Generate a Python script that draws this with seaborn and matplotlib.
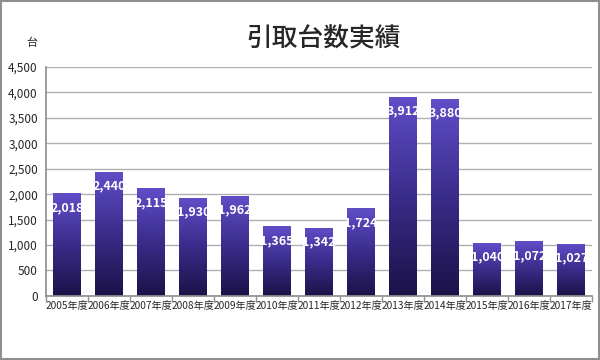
import numpy as np
import pandas as pd
import matplotlib
matplotlib.use("Agg")
import matplotlib.pyplot as plt
from matplotlib.colors import LinearSegmentedColormap
import seaborn as sns

# Data
years = ["2005年度", "2006年度", "2007年度", "2008年度", "2009年度", "2010年度", "2011年度",
         "2012年度", "2013年度", "2014年度", "2015年度", "2016年度", "2017年度"]
counts = [2018, 2440, 2115, 1930, 1962, 1365, 1342, 1724, 3912, 3880, 1040, 1072, 1027]
yticks = [0, 500, 1000, 1500, 2000, 2500, 3000, 3500, 4000, 4500]

sns.set_theme(style="white")
plt.rcParams["font.family"] = ["Noto Sans CJK JP", "DejaVu Sans"]

df = pd.DataFrame({"year": years, "count": counts})

fig = plt.figure(figsize=(6, 3.6), dpi=100)
ax = fig.add_axes([0.077, 0.178, 0.91, 0.636])

sns.barplot(data=df, x="year", y="count", ax=ax, width=0.66, color="#4a3aa0",
            edgecolor="none")

# vertical gradient on each bar
cmap = LinearSegmentedColormap.from_list("grad", ["#1c1248", "#3a2c8a", "#604ec8"])
grad = np.linspace(0, 1, 256).reshape(-1, 1)
for bar in ax.patches:
    x0, y0 = bar.get_x(), bar.get_y()
    w, h = bar.get_width(), bar.get_height()
    bar.set_facecolor("none")
    im = ax.imshow(grad, cmap=cmap, origin="lower", aspect="auto",
                   extent=[x0, x0 + w, y0, y0 + h], zorder=2)
    im.set_clip_path(bar)

# value labels
for i, v in enumerate(counts):
    ax.text(i, v - 280, f"{v:,}", ha="center", va="center", color="white",
            fontsize=9, fontweight="bold", zorder=3)

ax.set_xlim(-0.5, len(years) - 0.5)
ax.set_ylim(0, 4500)
ax.set_yticks(yticks)
ax.set_yticklabels([f"{t:,}" for t in yticks], fontsize=8.5)
ax.set_xticks(range(len(years)))
ax.set_xticklabels(years, fontsize=7.3)
ax.set_xlabel("")
ax.set_ylabel("")
ax.yaxis.grid(True, color="#b0b0b0", linewidth=1)
ax.set_axisbelow(True)
ax.tick_params(axis="y", length=0, pad=6)
ax.tick_params(axis="x", length=0, pad=4)
# tick marks between categories
ax.set_xticks(np.arange(-0.5, len(years)), minor=True)
ax.tick_params(axis="x", which="minor", length=4, color="#909090", bottom=True)
for side in ["top", "right"]:
    ax.spines[side].set_visible(False)
for side in ["left", "bottom"]:
    ax.spines[side].set_color("#909090")

fig.text(0.54, 0.893, "引取台数実績", ha="center", va="center", fontsize=18.5,
         fontweight="medium")
fig.text(0.053, 0.881, "台", ha="center", va="center", fontsize=8)

# outer gray frame
fig.patches.append(plt.Rectangle((0.002, 0.003), 0.996, 0.994, transform=fig.transFigure,
                                 fill=False, edgecolor="#909090", linewidth=1.5))

fig.savefig("out.png", dpi=100)
